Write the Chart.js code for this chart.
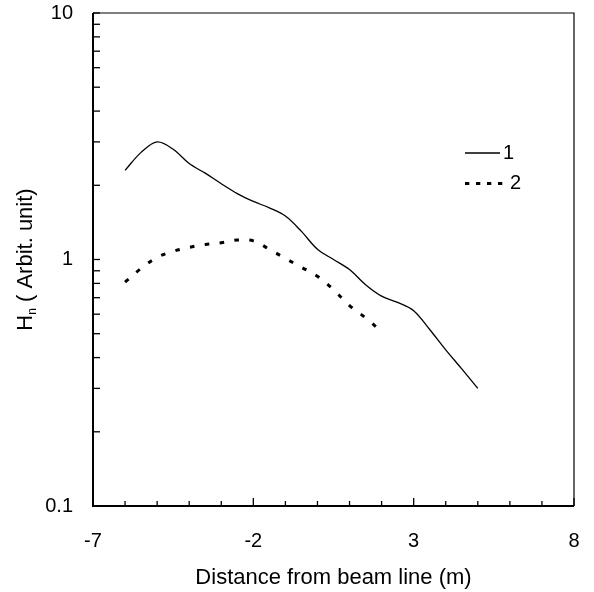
<!DOCTYPE html>
<html>
<head>
<meta charset="utf-8">
<script src="https://cdn.jsdelivr.net/npm/chart.js@4.4.1/dist/chart.umd.min.js"></script>
<style>
  html, body { margin: 0; padding: 0; background: #ffffff; }
  #wrap { width: 594px; height: 592px; position: relative; }
</style>
</head>
<body>
<div id="wrap"><canvas id="c" width="594" height="592"></canvas></div>
<script>
// ---- data ----
const x1 = [-6, -5.5, -5, -4.5, -4, -3.5, -3, -2.5, -2, -1.5, -1, -0.5, 0, 0.5, 1, 1.5, 2, 2.5, 3, 3.5, 4, 4.5, 5];
const series1 = [2.30, 2.72, 3.00, 2.80, 2.45, 2.24, 2.03, 1.85, 1.72, 1.62, 1.50, 1.30, 1.10, 1.00, 0.91, 0.79, 0.71, 0.67, 0.62, 0.52, 0.43, 0.36, 0.30];
const x2 = [-6, -5.5, -5, -4.5, -4, -3.5, -3, -2.5, -2, -1.5, -1, -0.5, 0, 0.5, 1, 1.5, 2];
const series2 = [0.81, 0.92, 1.02, 1.08, 1.12, 1.15, 1.17, 1.20, 1.19, 1.10, 1.01, 0.93, 0.855, 0.755, 0.65, 0.58, 0.51];
const seriesNames = ['1', '2'];
const xTickLabels = [-7, -2, 3, 8];
const yTickLabels = [0.1, 1, 10];

const FONT = '"Liberation Sans", Arial, sans-serif';

function pts(xs, ys) { return xs.map((x, i) => ({ x: x, y: ys[i] })); }

const framePlugin = {
  id: 'frameTicks',
  afterDraw(chart) {
    const ctx = chart.ctx;
    const a = chart.chartArea;
    const xs = chart.scales.x, ys = chart.scales.y;
    ctx.save();
    // frame
    ctx.strokeStyle = '#000';
    ctx.lineWidth = 1.2;
    ctx.beginPath();
    ctx.moveTo(a.left, a.top); ctx.lineTo(a.right, a.top); ctx.lineTo(a.right, a.bottom);
    ctx.stroke();
    ctx.lineWidth = 2;
    ctx.beginPath();
    ctx.moveTo(a.left, a.top); ctx.lineTo(a.left, a.bottom); ctx.lineTo(a.right, a.bottom);
    ctx.stroke();
    // x ticks (inward)
    ctx.lineWidth = 1.3;
    for (let v = xs.min; v <= xs.max; v += 1) {
      const px = xs.getPixelForValue(v);
      const major = xTickLabels.includes(v);
      ctx.beginPath();
      ctx.moveTo(px, a.bottom);
      ctx.lineTo(px, a.bottom - (major ? 8 : 5));
      ctx.stroke();
    }
    // y ticks (inward), logarithmic minor ticks
    const yVals = [];
    [0.1, 1].forEach(d => { for (let k = 1; k <= 9; k++) yVals.push(k * d); });
    yVals.push(10);
    yVals.forEach(v => {
      const py = ys.getPixelForValue(v);
      ctx.beginPath();
      ctx.moveTo(a.left, py);
      ctx.lineTo(a.left + 7, py);
      ctx.stroke();
    });
    // legend inside plot
    const ds = chart.data.datasets;
    const legendRows = [
      { y: 153, x0: 465, x1: 500, tx: 503, ds: ds[0] },
      { y: 183.5, x0: 465, x1: 503, tx: 510, ds: ds[1] }
    ];
    legendRows.forEach(r => {
      ctx.strokeStyle = r.ds.borderColor;
      ctx.lineWidth = r.ds.borderWidth;
      ctx.setLineDash(r.ds === ds[1] ? [4.3, 6.7] : []);
      ctx.beginPath();
      ctx.moveTo(r.x0, r.y); ctx.lineTo(r.x1, r.y);
      ctx.stroke();
      ctx.setLineDash([]);
      ctx.fillStyle = '#000';
      ctx.font = '20px ' + FONT;
      ctx.textBaseline = 'middle';
      ctx.textAlign = 'left';
      ctx.fillText(r.ds.label, r.tx, r.y);
    });
    // y axis title with subscript
    ctx.translate(32, (a.top + a.bottom) / 2);
    ctx.rotate(-Math.PI / 2);
    ctx.textBaseline = 'alphabetic';
    ctx.textAlign = 'left';
    const big = '22px ' + FONT, small = '12px ' + FONT;
    ctx.font = big; const wH = ctx.measureText('H').width;
    ctx.font = small; const wN = ctx.measureText('n').width;
    ctx.font = big; const rest = ' ( Arbit. unit)'; const wR = ctx.measureText(rest).width;
    let x = -(wH + wN + wR) / 2;
    ctx.font = big; ctx.fillText('H', x, 0); x += wH;
    ctx.font = small; ctx.fillText('n', x, 4); x += wN;
    ctx.font = big; ctx.fillText(rest, x, 0);
    ctx.restore();
  }
};

new Chart(document.getElementById('c'), {
  type: 'line',
  data: {
    datasets: [
      {
        label: seriesNames[0],
        data: pts(x1, series1),
        borderColor: '#000',
        borderWidth: 1.3,
        pointRadius: 0,
        tension: 0.35,
        fill: false
      },
      {
        label: seriesNames[1],
        data: pts(x2, series2),
        borderColor: '#000',
        borderWidth: 3,
        borderDash: [4.5, 10.5],
        pointRadius: 0,
        tension: 0.35,
        fill: false
      }
    ]
  },
  options: {
    responsive: false,
    animation: false,
    devicePixelRatio: 1,
    layout: { padding: { left: 0, top: 13, right: 20, bottom: 0 } },
    plugins: { legend: { display: false }, tooltip: { enabled: false } },
    scales: {
      x: {
        type: 'linear',
        min: -7, max: 8,
        afterBuildTicks(scale) { scale.ticks = xTickLabels.map(v => ({ value: v })); },
        afterFit(scale) { scale.height = 86; scale.paddingLeft = 0; scale.paddingRight = 0; },
        grid: { display: false, drawTicks: false },
        border: { display: false },
        ticks: {
          padding: 23,
          color: '#000',
          font: { family: FONT, size: 20 },
          maxRotation: 0,
          callback: v => String(v)
        },
        title: {
          display: true,
          text: 'Distance from beam line (m)',
          color: '#000',
          font: { family: FONT, size: 22 },
          padding: { top: 0, bottom: 1 }
        }
      },
      y: {
        type: 'logarithmic',
        min: 0.1, max: 10,
        afterBuildTicks(scale) { scale.ticks = yTickLabels.map(v => ({ value: v })); },
        afterFit(scale) { scale.width = 93; scale.paddingTop = 0; scale.paddingBottom = 0; },
        grid: { display: false, drawTicks: false },
        border: { display: false },
        ticks: {
          padding: 20,
          color: '#000',
          font: { family: FONT, size: 20 },
          callback: v => String(v)
        }
      }
    }
  },
  plugins: [framePlugin]
});
</script>
</body>
</html>
